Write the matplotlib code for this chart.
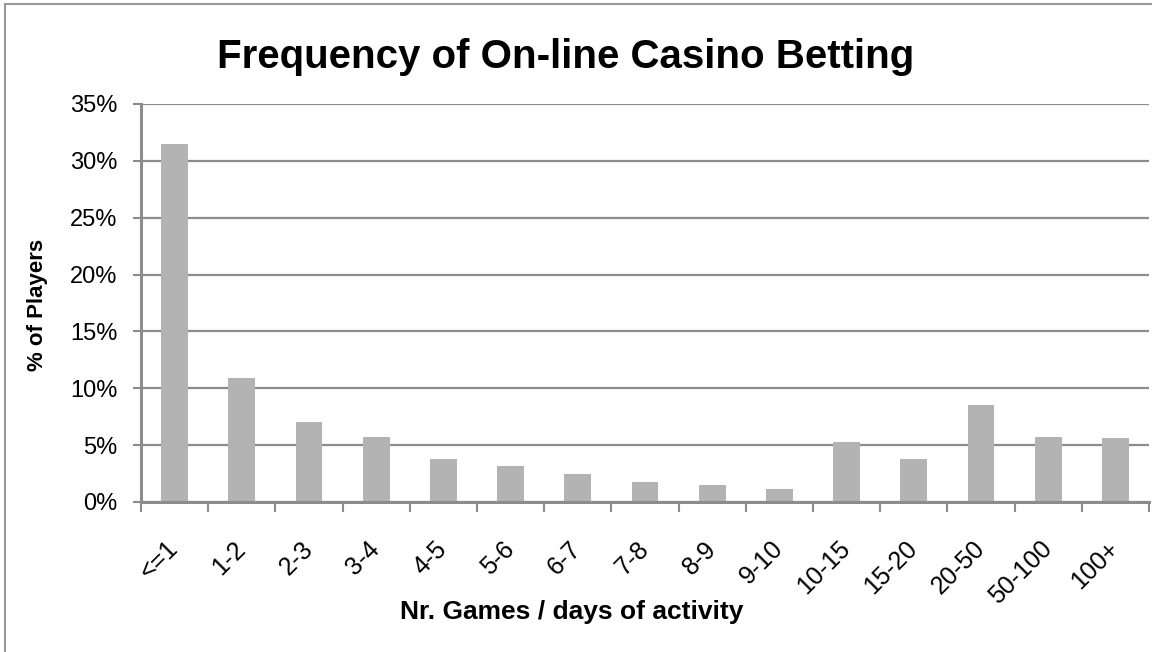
import matplotlib
matplotlib.use("Agg")
import matplotlib.pyplot as plt
from matplotlib.lines import Line2D
from matplotlib.ticker import FuncFormatter, MultipleLocator
import numpy as np

# valeurs (% de joueurs)
categories = ['<=1', '1-2', '2-3', '3-4', '4-5', '5-6', '6-7', '7-8', '8-9',
              '9-10', '10-15', '15-20', '20-50', '50-100', '100+']
pct_players = [31.5, 10.9, 7.0, 5.7, 3.75, 3.15, 2.45, 1.75, 1.5,
               1.15, 5.3, 3.75, 8.55, 5.7, 5.6]

title = 'Frequency of On-line Casino Betting'
x_label = 'Nr. Games / days of activity'
y_label = '% of Players'

plt.rcParams['font.family'] = ['Liberation Sans', 'DejaVu Sans']
grey = '#8c8c8c'

fig = plt.figure(figsize=(11.52, 6.52), dpi=100)
ax = fig.add_axes([141 / 1152, 1 - 502 / 652, (1149 - 141) / 1152, (502 - 104) / 652])

x = np.arange(len(categories))
ax.bar(x, pct_players, width=0.4, color='#b3b3b3', zorder=3)

ax.set_xlim(-0.5, len(categories) - 0.5)
ax.set_ylim(0, 35)
ax.yaxis.set_major_locator(MultipleLocator(5))
ax.yaxis.set_major_formatter(FuncFormatter(lambda v, p: '%d%%' % v))
ax.grid(axis='y', color=grey, linewidth=1.6, zorder=0)

# etiquettes au centre, graduations aux bornes des categories
ax.set_xticks(x)
ax.set_xticklabels(categories, rotation=45, ha='right', va='center',
                   rotation_mode='anchor')
ax.set_xticks(np.arange(len(categories) + 1) - 0.5, minor=True)
ax.tick_params(axis='x', which='major', length=0, pad=31, labelsize=18)
ax.tick_params(axis='x', which='minor', length=7, width=1.5, color=grey)
ax.tick_params(axis='y', length=6, width=1.5, color=grey, pad=11, labelsize=17)

for side in ['top', 'right']:
    ax.spines[side].set_visible(False)
for side in ['left', 'bottom']:
    ax.spines[side].set_color(grey)
    ax.spines[side].set_linewidth(2.2)
    ax.spines[side].set_zorder(4)

fig.text(566 / 1152, 1 - 57 / 652, title, ha='center', va='center',
         fontsize=29, fontweight='bold')
fig.text(572 / 1152, 1 - 612 / 652, x_label, ha='center', va='center',
         fontsize=19, fontweight='bold')
fig.text(38 / 1152, 1 - 305 / 652, y_label, ha='center', va='center',
         rotation=90, fontsize=16, fontweight='bold')

# bordure du cadre (haut et gauche)
fig.add_artist(Line2D([5 / 1152, 1], [1 - 4 / 652, 1 - 4 / 652],
                      transform=fig.transFigure, color='#999999', linewidth=1.5))
fig.add_artist(Line2D([5 / 1152, 5 / 1152], [0, 1 - 4 / 652],
                      transform=fig.transFigure, color='#999999', linewidth=1.5))

fig.savefig('out.png', dpi=100)
